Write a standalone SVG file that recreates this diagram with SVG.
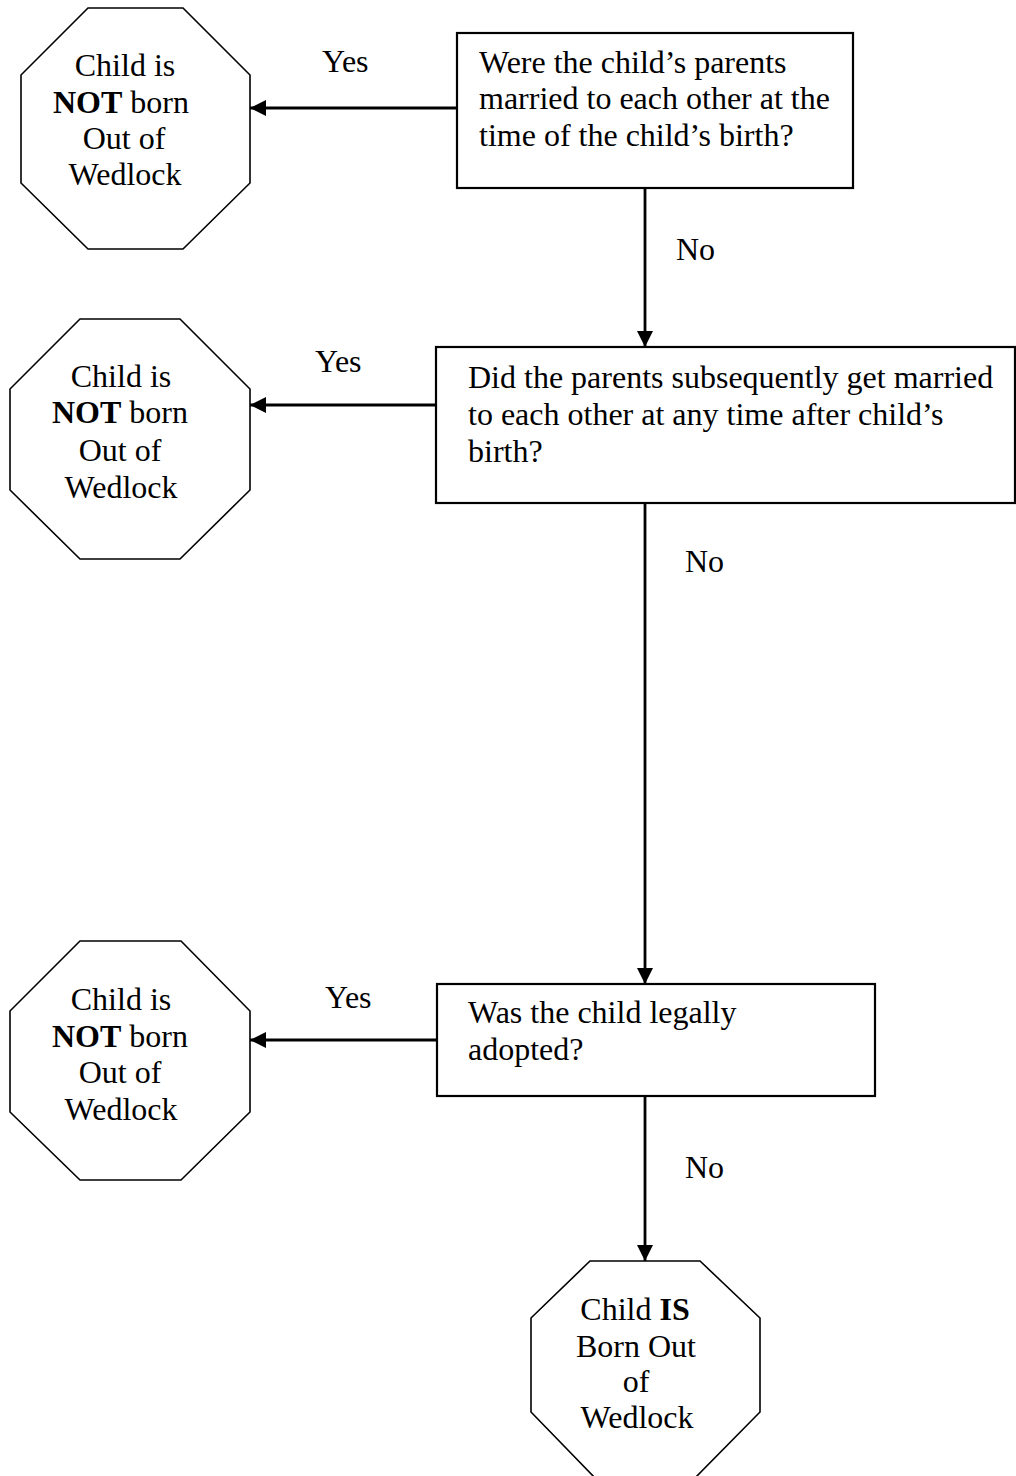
<svg xmlns="http://www.w3.org/2000/svg" width="1016" height="1476" viewBox="0 0 1016 1476">
<style>
text{font-family:"Liberation Serif","Times New Roman",serif;font-size:32px;fill:#000}
.c{text-anchor:middle}
.b{font-weight:bold}
.oct{fill:#fff;stroke:#000;stroke-width:1.6}
.box{fill:#fff;stroke:#000;stroke-width:2.2}
.edge{fill:none;stroke:#000;stroke-width:2.8}
</style>
<defs>
<marker id="arr" markerUnits="userSpaceOnUse" viewBox="0 0 16 16" refX="16" refY="8" markerWidth="16" markerHeight="16" orient="auto">
<path d="M0,0 L16,8 L0,16 z" fill="#000"/>
</marker>
</defs>
<rect width="1016" height="1476" fill="#fff"/>
<g id="connectors">
<line class="edge" x1="457" y1="108" x2="250" y2="108" marker-end="url(#arr)"/>
<line class="edge" x1="645" y1="188" x2="645" y2="347" marker-end="url(#arr)"/>
<line class="edge" x1="436" y1="405" x2="250" y2="405" marker-end="url(#arr)"/>
<line class="edge" x1="645" y1="503" x2="645" y2="984" marker-end="url(#arr)"/>
<line class="edge" x1="437" y1="1040" x2="250" y2="1040" marker-end="url(#arr)"/>
<line class="edge" x1="645" y1="1096" x2="645" y2="1261" marker-end="url(#arr)"/>
<text x="322" y="72">Yes</text>
<text x="676" y="260">No</text>
<text x="315" y="372">Yes</text>
<text x="685" y="572">No</text>
<text x="325" y="1008">Yes</text>
<text x="685" y="1178">No</text>
</g>
<g id="q1">
<rect class="box" x="457" y="33" width="396" height="155"/>
<text x="479" y="73">Were the child’s parents</text>
<text x="479" y="109">married to each other at the</text>
<text x="479" y="146">time of the child’s birth?</text>
</g>
<g id="q2">
<rect class="box" x="436" y="347" width="579" height="156"/>
<text x="468" y="388">Did the parents subsequently get married</text>
<text x="468" y="425">to each other at any time after child’s</text>
<text x="468" y="462">birth?</text>
</g>
<g id="q3">
<rect class="box" x="437" y="984" width="438" height="112"/>
<text x="468" y="1023">Was the child legally</text>
<text x="468" y="1060">adopted?</text>
</g>
<g id="end1">
<polygon class="oct" points="88,8 183,8 250,75 250,183 183,249 88,249 21,183 21,75"/>
<text class="c" x="125" y="76">Child is</text>
<text class="c" x="121" y="113"><tspan class="b">NOT</tspan> born</text>
<text class="c" x="124" y="149">Out of</text>
<text class="c" x="125" y="185">Wedlock</text>
</g>
<g id="end2">
<polygon class="oct" points="80,319 180,319 250,389 250,490 180,559 80,559 10,490 10,389"/>
<text class="c" x="121" y="387">Child is</text>
<text class="c" x="120" y="423"><tspan class="b">NOT</tspan> born</text>
<text class="c" x="120" y="461">Out of</text>
<text class="c" x="121" y="498">Wedlock</text>
</g>
<g id="end3">
<polygon class="oct" points="80,941 181,941 250,1011 250,1112 181,1180 80,1180 10,1112 10,1011"/>
<text class="c" x="121" y="1010">Child is</text>
<text class="c" x="120" y="1047"><tspan class="b">NOT</tspan> born</text>
<text class="c" x="120" y="1083">Out of</text>
<text class="c" x="121" y="1120">Wedlock</text>
</g>
<g id="end4">
<polygon class="oct" points="590,1261 700,1261 760,1318 760,1412 693,1480 597,1480 531,1412 531,1318"/>
<text class="c" x="635" y="1320">Child <tspan class="b">IS</tspan></text>
<text class="c" x="636" y="1357">Born Out</text>
<text class="c" x="636" y="1392">of</text>
<text class="c" x="637" y="1428">Wedlock</text>
</g>
</svg>
